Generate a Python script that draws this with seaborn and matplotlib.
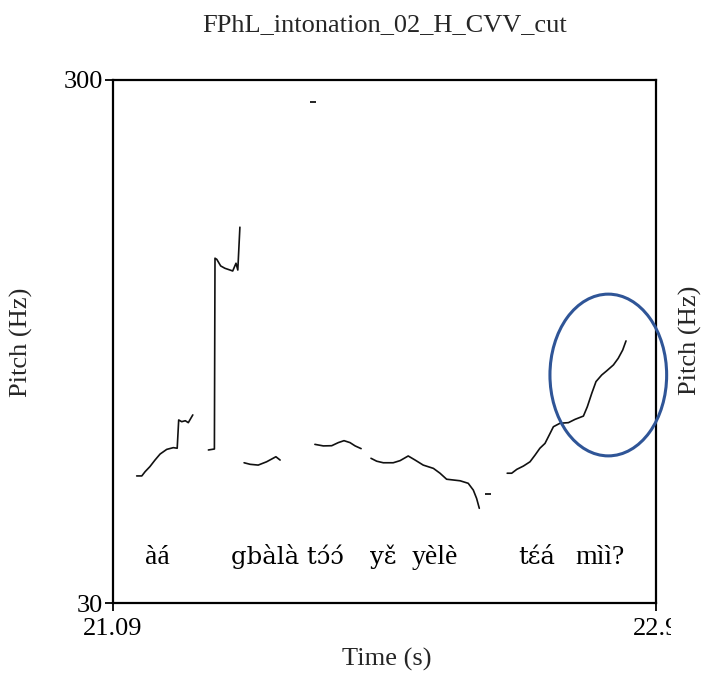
import matplotlib
matplotlib.use("Agg")
import matplotlib.pyplot as plt
from matplotlib.patches import Ellipse
from matplotlib.transforms import Bbox
import seaborn as sns
import pandas as pd
import unicodedata

# ---- data ----
seg1_t = [21.169, 21.186, 21.197, 21.213, 21.230, 21.247, 21.269, 21.291, 21.304, 21.309, 21.319, 21.331, 21.341, 21.356]
seg1_hz = [95.6, 95.6, 97.8, 100.4, 103.8, 106.9, 109.3, 110.2, 109.9, 124.5, 123.6, 124.1, 123.1, 127.1]

seg2_t = [21.408, 21.428, 21.430, 21.436, 21.449, 21.463, 21.480, 21.489, 21.500, 21.506, 21.513]
seg2_hz = [109.0, 109.5, 208.0, 207.4, 204.0, 202.8, 201.9, 201.4, 205.4, 201.9, 224.0]

seg3_t = [21.527, 21.547, 21.574, 21.602, 21.633, 21.647]
seg3_hz = [102.4, 101.6, 101.2, 102.9, 105.5, 103.8]

seg4_t = [21.763, 21.791, 21.819, 21.841, 21.860, 21.880, 21.897, 21.917]
seg4_hz = [111.9, 111.1, 111.2, 112.8, 113.8, 112.8, 111.1, 109.7]

seg5_t = [21.950, 21.969, 21.991, 22.024, 22.047, 22.074, 22.097, 22.124, 22.158, 22.180,
          22.202, 22.247, 22.274, 22.291, 22.302, 22.311]
seg5_hz = [104.7, 103.2, 102.4, 102.4, 103.5, 105.9, 103.8, 101.2, 99.5, 97.0,
           93.9, 93.1, 91.8, 88.3, 84.0, 78.9]

seg6_t = [22.404, 22.419, 22.436, 22.458, 22.480, 22.497, 22.513, 22.530, 22.547, 22.558,
          22.580, 22.608, 22.630, 22.658, 22.671, 22.686, 22.700, 22.719, 22.736, 22.758,
          22.774, 22.789, 22.800]
seg6_hz = [97.0, 97.0, 99.0, 100.7, 102.9, 106.4, 109.9, 112.4, 117.6, 121.0,
           122.8, 123.1, 124.8, 126.5, 131.3, 138.3, 144.3, 147.7, 149.9, 152.9,
           156.3, 160.6, 165.3]

dots_t = [21.757, 22.341]
dots_hz = [288.6, 86.3]

words = ["àá", "gbàlà tɔ́ɔ́", "yɛ̌", "yèlè", "tɛ́á", "mìì?"]
words_t = [21.237, 21.672, 21.990, 22.163, 22.503, 22.713]
words_hz = [50.1] * 6

xticks = [21.09, 22.9]
xtick_labels = ["21.09", "22.9"]
yticks = [30, 300]
ytick_labels = ["30", "300"]

circle_center = (22.741, 147.7)
circle_w, circle_h = 0.389, 83.5

title = "FPhL_intonation_02_H_CVV_cut"

# ---- build table ----
segs = [(seg1_t, seg1_hz), (seg2_t, seg2_hz), (seg3_t, seg3_hz),
        (seg4_t, seg4_hz), (seg5_t, seg5_hz), (seg6_t, seg6_hz)]
rows = []
for i, (ts, hs) in enumerate(segs):
    for t, h in zip(ts, hs):
        rows.append({"seg": i, "t": t, "hz": h})
df = pd.DataFrame(rows)
dots = pd.DataFrame({"t": dots_t, "hz": dots_hz})

sns.set_theme(style="white")
plt.rcParams['font.family'] = ['Liberation Serif', 'DejaVu Serif']

FS = 19

fig = plt.figure(figsize=(7.03, 6.78), dpi=100)
ax = fig.add_axes([113 / 703, 1 - 603 / 678, 543 / 703, 523 / 678])

sns.lineplot(data=df, x="t", y="hz", units="seg", estimator=None, sort=False,
             color="#111111", linewidth=1.2, ax=ax, legend=False)
sns.scatterplot(data=dots, x="t", y="hz", marker="_", s=20, color="black",
                linewidth=1.2, ax=ax, legend=False)

for w, t, h in zip(words, words_t, words_hz):
    has_comb = any(unicodedata.combining(c) for c in w)
    if has_comb:
        ax.text(t, h, w, ha="center", va="baseline", fontsize=17.5, color="black",
                family=["DejaVu Serif"])
    else:
        ax.text(t, h, w, ha="center", va="baseline", fontsize=20, color="black")

ell = Ellipse(circle_center, circle_w, circle_h, fill=False, edgecolor="#2F5597",
              linewidth=2.2, clip_on=False, zorder=5)
ax.add_patch(ell)

ax.set_xlim(21.09, 22.9)
ax.set_ylim(30, 300)
ax.set_xticks(xticks)
ax.set_xticklabels(xtick_labels)
ax.set_yticks(yticks)
ax.set_yticklabels(ytick_labels)
ax.tick_params(axis="both", direction="out", length=6, width=1.3, color="black",
               labelsize=FS, labelcolor="black", pad=1,
               bottom=True, left=True)
ax.tick_params(axis="x", pad=5)
ax.set_xlabel("")
ax.set_ylabel("")
for s in ax.spines.values():
    s.set_linewidth(1.6)
    s.set_color("black")
    s.set_visible(True)

# the last x label is cut off at the right in the reference
clip = Bbox([[0, 0], [671, 678]])
for lab in ax.get_xticklabels():
    if lab.get_text() == "22.9":
        lab.set_clip_box(clip)
        lab.set_clip_on(True)

fig.text(387 / 703, 1 - 659 / 678, "Time (s)", ha="center", va="center", fontsize=FS)
fig.text(21 / 703, 1 - 342 / 678, "Pitch (Hz)", ha="center", va="center",
         rotation=90, fontsize=FS)
fig.text(690 / 703, 1 - 340 / 678, "Pitch (Hz)", ha="center", va="center",
         rotation=90, fontsize=FS)
fig.text(385 / 703, 1 - 31 / 678, title, ha="center", va="baseline", fontsize=FS)

fig.savefig("out.png", dpi=100, facecolor="white")
